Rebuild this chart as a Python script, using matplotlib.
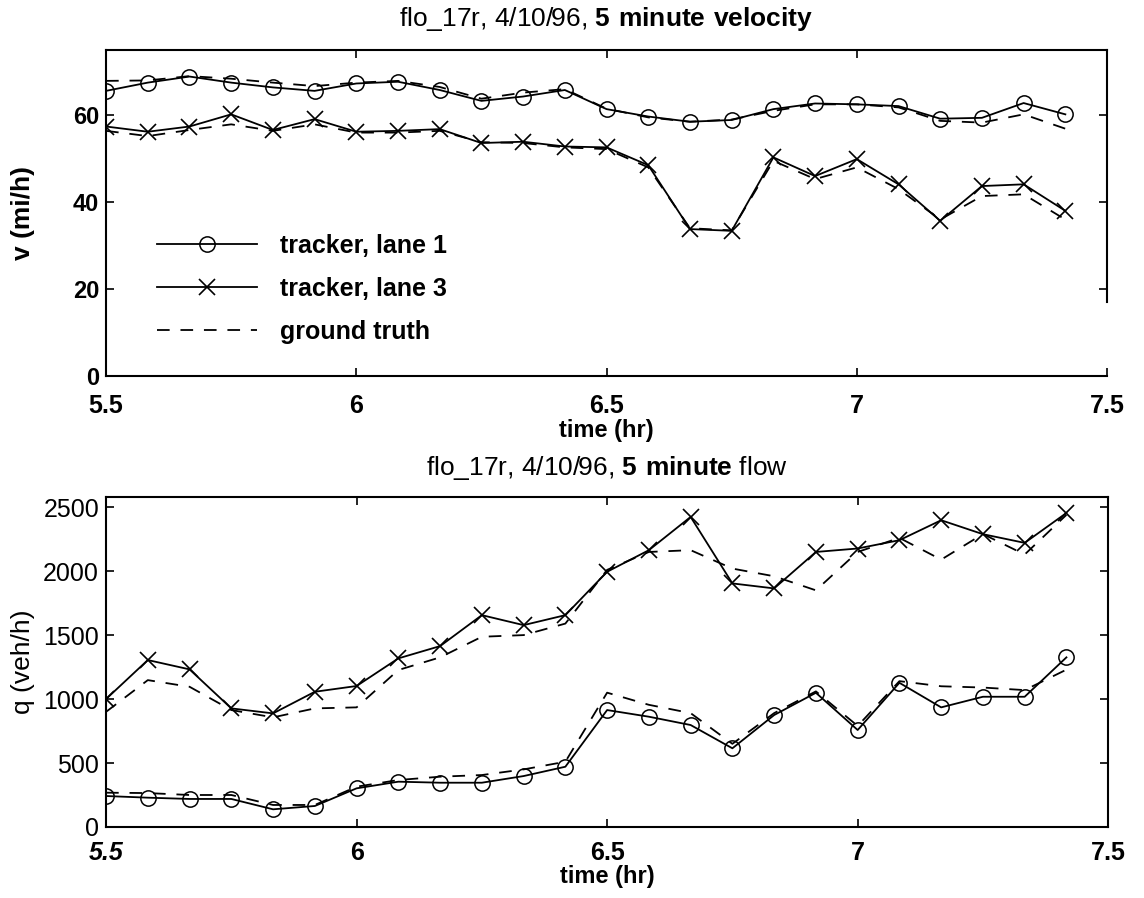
import numpy as np
import matplotlib
matplotlib.use("Agg")
import matplotlib.pyplot as plt

plt.rcParams['font.family'] = ['Liberation Sans', 'DejaVu Sans']
plt.rcParams['mathtext.fontset'] = 'custom'
plt.rcParams['mathtext.rm'] = 'Liberation Sans'
plt.rcParams['mathtext.bf'] = 'Liberation Sans:bold'

# 5 minute samples, 5.5 hr to 7.42 hr
t = 5.5 + np.arange(24) / 12.0

# velocity (mi/h)
v_lane1 = [65.6, 67.5, 68.9, 67.5, 66.4, 65.6, 67.3, 67.7, 65.8, 63.3, 64.3, 65.8,
           61.4, 59.7, 58.5, 58.9, 61.4, 62.7, 62.5, 62.1, 59.2, 59.4, 62.8, 60.2]
v_truth1 = [67.9, 68.0, 69.0, 68.4, 67.5, 66.7, 67.5, 67.9, 66.5, 63.8, 65.2, 66.0,
            61.5, 59.5, 58.5, 59.0, 61.0, 62.5, 62.5, 61.8, 58.7, 58.3, 60.2, 56.9]
v_lane3 = [57.4, 56.2, 57.4, 60.2, 56.6, 59.1, 56.2, 56.4, 56.8, 53.6, 53.9, 52.8,
           52.6, 48.5, 33.8, 33.4, 50.3, 46.0, 49.9, 44.1, 35.7, 43.7, 44.1, 38.0]
v_truth3 = [56.4, 55.2, 56.6, 57.9, 56.4, 57.9, 56.0, 56.0, 56.4, 53.8, 53.6, 52.6,
            52.2, 48.0, 34.0, 33.5, 49.5, 45.3, 48.0, 43.0, 36.0, 41.4, 41.8, 36.0]

# flow (veh/h)
q_lane1 = [242, 229, 219, 219, 138, 164, 302, 354, 346, 346, 398, 471,
           914, 862, 797, 615, 875, 1049, 758, 1127, 935, 1018, 1018, 1326]
q_truth1 = [268, 265, 250, 250, 172, 172, 315, 367, 393, 406, 450, 510,
            1050, 955, 890, 650, 890, 1060, 790, 1140, 1100, 1090, 1070, 1230]
q_lane3 = [1000, 1305, 1232, 927, 888, 1057, 1102, 1318, 1414, 1656, 1578, 1656,
           1995, 2164, 2424, 1904, 1865, 2150, 2177, 2242, 2398, 2289, 2221, 2455]
q_truth3 = [900, 1148, 1096, 914, 857, 927, 935, 1227, 1326, 1487, 1500, 1590,
            2010, 2150, 2164, 2020, 1960, 1850, 2150, 2260, 2090, 2290, 2130, 2440]

x_ticks = [5.5, 6, 6.5, 7, 7.5]
x_labels = ['5.5', '6', '6.5', '7', '7.5']
v_ticks = [0, 20, 40, 60]
q_ticks = [0, 500, 1000, 1500, 2000, 2500]

lw = 1.3
ms = 11
dash = (0, (7, 6))

fig = plt.figure(figsize=(11.44, 8.98), dpi=100)
ax1 = fig.add_axes([0.0927, 0.5813, 0.875, 0.363])
ax2 = fig.add_axes([0.0927, 0.0791, 0.876, 0.3675])

for ax in (ax1, ax2):
    ax.tick_params(direction='in', length=6, width=1.2, top=True, right=True,
                   labelsize=18)
    ax.tick_params(axis='y', pad=5)
    for s in ax.spines.values():
        s.set_linewidth(1.5)
    ax.set_xlim(5.5, 7.5)
    ax.set_xticks(x_ticks)
ax1.tick_params(axis='x', pad=13)
ax2.tick_params(axis='x', pad=10)

# velocity
h1, = ax1.plot(t, v_lane1, '-', color='k', lw=lw, marker='o', ms=ms,
               mfc='none', mec='k', mew=1.1)
h3, = ax1.plot(t, v_lane3, '-', color='k', lw=lw, marker='x', ms=ms,
               mec='k', mew=1.2)
hg, = ax1.plot(t, v_truth1, color='k', lw=lw, ls=dash)
ax1.plot(t, v_truth3, color='k', lw=lw, ls=dash)
ax1.set_ylim(0, 75)
ax1.set_yticks(v_ticks)
ax1.set_xticklabels(x_labels, fontweight='bold')
ax1.set_yticklabels([str(v) for v in v_ticks], fontweight='bold', fontsize=17)
ax1.spines['right'].set_bounds(17, 75)
ax1.set_title(r"flo_17r, 4/10/96, $\mathbf{5\ minute\ velocity}$", fontsize=19, pad=17)
ax1.set_xlabel('time (hr)', fontsize=17, fontweight='bold', labelpad=1)
ax1.set_ylabel('v (mi/h)', fontsize=19, fontweight='bold')
ax1.yaxis.set_label_coords(-0.071, 0.5)
ax1.legend([h1, h3, hg], ['tracker, lane 1', 'tracker, lane 3', 'ground truth'],
           loc='center left', bbox_to_anchor=(0.051, 0.267), frameon=False,
           borderpad=0, borderaxespad=0, handlelength=4.0, handletextpad=0.9,
           labelspacing=0.75, numpoints=1, prop={'weight': 'bold', 'size': 18})

# flow
ax2.plot(t, q_lane1, '-', color='k', lw=lw, marker='o', ms=ms,
         mfc='none', mec='k', mew=1.1)
ax2.plot(t, q_lane3, '-', color='k', lw=lw, marker='x', ms=ms,
         mec='k', mew=1.2)
ax2.plot(t, q_truth1, color='k', lw=lw, ls=dash)
ax2.plot(t, q_truth3, color='k', lw=lw, ls=dash)
ax2.set_ylim(0, 2580)
ax2.set_yticks(q_ticks)
ax2.set_yticklabels([str(q) for q in q_ticks], fontsize=18)
ax2.set_xticklabels(x_labels, fontweight='bold')
ax2.get_xticklabels()[0].set_fontstyle('italic')
ax2.set_title(r"flo_17r, 4/10/96, $\mathbf{5\ minute}$ flow", fontsize=19, pad=16)
ax2.set_xlabel('time (hr)', fontsize=17, fontweight='bold', labelpad=0)
ax2.set_ylabel('q (veh/h)', fontsize=19)
ax2.yaxis.set_label_coords(-0.071, 0.5)

fig.savefig('out.png', dpi=100)
